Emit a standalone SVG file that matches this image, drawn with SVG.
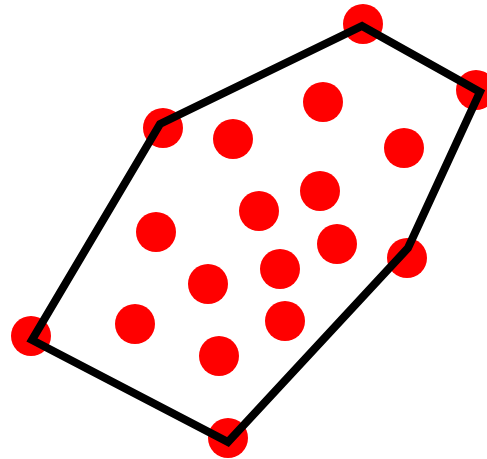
<svg xmlns="http://www.w3.org/2000/svg" width="487" height="459" viewBox="0 0 487 459">
<style>
.pt{fill:#ff0000}
.hull{fill:none;stroke:#000;stroke-width:8;stroke-linejoin:miter}
</style>
<rect width="487" height="459" fill="#fff"/>
<g id="points">
<g id="p1"><circle class="pt" cx="363" cy="24" r="20"/></g>
<g id="p2"><circle class="pt" cx="476" cy="90" r="20"/></g>
<g id="p3"><circle class="pt" cx="163" cy="128" r="20"/></g>
<g id="p4"><circle class="pt" cx="233" cy="139" r="20"/></g>
<g id="p5"><circle class="pt" cx="323" cy="102" r="20"/></g>
<g id="p6"><circle class="pt" cx="404" cy="148" r="20"/></g>
<g id="p7"><circle class="pt" cx="320" cy="191" r="20"/></g>
<g id="p8"><circle class="pt" cx="259" cy="211" r="20"/></g>
<g id="p9"><circle class="pt" cx="156" cy="232" r="20"/></g>
<g id="p10"><circle class="pt" cx="337" cy="244" r="20"/></g>
<g id="p11"><circle class="pt" cx="407" cy="258" r="20"/></g>
<g id="p12"><circle class="pt" cx="280" cy="269" r="20"/></g>
<g id="p13"><circle class="pt" cx="208" cy="284" r="20"/></g>
<g id="p14"><circle class="pt" cx="135" cy="324" r="20"/></g>
<g id="p15"><circle class="pt" cx="285" cy="321" r="20"/></g>
<g id="p16"><circle class="pt" cx="219" cy="356" r="20"/></g>
<g id="p17"><circle class="pt" cx="31" cy="336" r="20"/></g>
<g id="p18"><circle class="pt" cx="228" cy="438" r="20"/></g>
</g>
<g id="connectors">
<polygon class="hull" points="362,26 480,92 408,248 228,442 32,340 160,124"/>
</g>
</svg>
